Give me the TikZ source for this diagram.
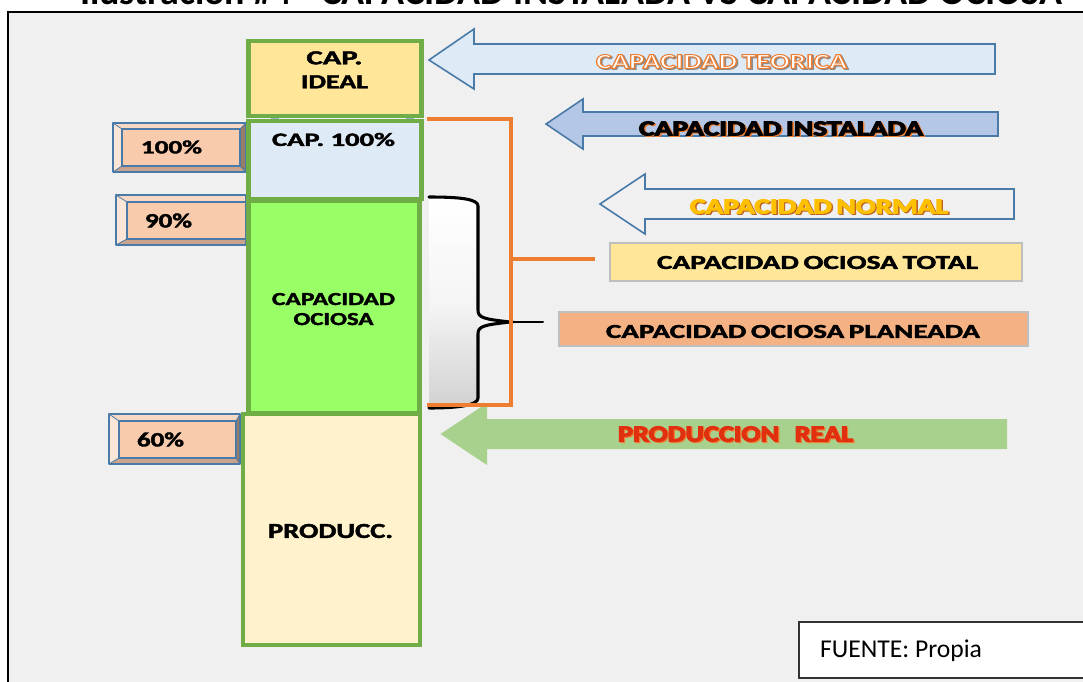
\documentclass[tikz,border=0pt]{standalone}
\usepackage{fontspec}
\usepackage{graphicx}
\setmainfont{Carlito}
\definecolor{bgc}{HTML}{F0F0F0}
\definecolor{grn}{HTML}{70AD47}
\definecolor{lblue}{HTML}{DEEAF6}
\definecolor{mblue}{HTML}{B4C7E7}
\definecolor{edge}{HTML}{4A7BA8}
\definecolor{yel}{HTML}{FFE699}
\definecolor{lime}{HTML}{99FF66}
\definecolor{cream}{HTML}{FFF2CC}
\definecolor{org}{HTML}{ED7D31}
\definecolor{sal}{HTML}{F4B183}
\definecolor{arrg}{HTML}{A9D18E}
\definecolor{bvf}{HTML}{F8CBAD}
\definecolor{bvt}{HTML}{FAD9C4}
\definecolor{bvl}{HTML}{FBE5D6}
\definecolor{bvb}{HTML}{C9A38B}
\definecolor{bvr}{HTML}{977C68}
\definecolor{gold}{HTML}{FFC000}
\definecolor{redt}{HTML}{E03010}
% fit a text in a box of given size in reference pixels
\newcommand{\fitbox}[3]{\resizebox{#1\dimexpr0.75pt\relax}{#2\dimexpr0.75pt\relax}{\bfseries\special{pdf:code 2 Tr 0.18 w}#3\special{pdf:code 0 Tr}}}
\newcommand{\tightsp}{\spaceskip=.7\fontdimen2\font}
% outlined text with a soft shadow: fill, stroke, shadow, text
\newcommand{\fx}[6]{\resizebox{#1\dimexpr0.75pt\relax}{#2\dimexpr0.75pt\relax}{\bfseries\tightsp
  \rlap{\kern0.45pt\raisebox{-0.45pt}{\color{#5}\special{pdf:code 2 Tr 0.5 w}#6}}%
  \color{#3}\strokeset{#4}#6\special{pdf:code 0 Tr}}}
\newcommand{\strokeset}[1]{\pgfextractcolor{#1}}
\makeatletter
\newcommand{\pgfextractcolor}[1]{\extractcolorspec{#1}{\my@spec}\expandafter\my@conv\my@spec\@nil\special{pdf:code 2 Tr \my@rgb\space RG 0.45 w}}
\def\my@conv#1#2\@nil{\convertcolorspec{#1}{#2}{rgb}\my@tmp\expandafter\my@split\my@tmp\@nil}
\def\my@split#1,#2,#3\@nil{\def\my@rgb{#1 #2 #3}}
\makeatother
\tikzset{
  pxsize/.style 2 args={minimum width=#1*0.75pt,minimum height=#2*0.75pt},
  txt/.style={inner sep=0pt,outer sep=0pt},
  tower/.style={draw=grn,line width=3.7pt,inner sep=0pt,outer sep=0pt},
  labelbox/.style={draw=black!25,line width=1.1pt,inner sep=0pt,outer sep=0pt},
  bevelface/.style={draw=edge,line width=1.1pt,fill=bvf,inner sep=0pt,outer sep=0pt},
  bevelline/.style={draw=edge,line width=0.9pt,line join=round},
  arrowshape/.style={draw=edge,line width=1.2pt,line join=miter},
  orangeline/.style={draw=org,line width=2.3pt},
  bracestroke/.style={draw=black,line width=2.3pt,line cap=round},
}
\newcommand{\bevel}[9]{% name, outer x1,y1,x2,y2, inner x1,y1,x2,y2
  \fill[bvt] (#2,#3)--(#4,#3)--(#8,#7)--(#6,#7)--cycle;
  \fill[bvl] (#2,#3)--(#6,#7)--(#6,#9)--(#2,#5)--cycle;
  \fill[bvb] (#2,#5)--(#6,#9)--(#8,#9)--(#4,#5)--cycle;
  \fill[bvr] (#4,#3)--(#8,#7)--(#8,#9)--(#4,#5)--cycle;
  \draw[bevelline] (#2,#3) rectangle (#4,#5);
  \draw[bevelline,line width=0.6pt] (#2,#3)--(#6,#7) (#2,#5)--(#6,#9) (#4,#3)--(#8,#7) (#4,#5)--(#8,#9);
}
\begin{document}
\begin{tikzpicture}[x=0.75pt,y=-0.75pt]
\useasboundingbox (0,0) rectangle (1083,682);
\fill[white] (0,0) rectangle (1083,682);
\fill[bgc] (8,12) rectangle (1083,682);
\draw[black,line width=1.9pt] (8,690) -- (8,12) -- (1090,12);
\node[txt,anchor=south west] (title) at (80,5) {\resizebox{982\dimexpr0.75pt\relax}{!}{\bfseries Ilustración \#4 - CAPACIDAD INSTALADA VS CAPACIDAD OCIOSA}};

% percentage tabs
\bevel{b100}{113}{123}{246}{172}{122}{129}{240}{166}
\node[bevelface,pxsize={118}{37}] (tab100) at (181,147.5) {};
\bevel{b90}{116}{195}{246}{245}{127}{202}{246}{239}
\node[bevelface,pxsize={119}{37}] (tab90) at (186.5,220.5) {};
\bevel{b60}{109}{414}{240}{464}{119}{421}{236}{458}
\node[bevelface,pxsize={117}{37}] (tab60) at (177.5,439.5) {};

% small tips between the top boxes
\fill[edge!60] (271,118) rectangle (279,121);
\fill[edge!60] (406,118) rectangle (414,121);

% tower
\node[tower,fill=yel,pxsize={173}{75}] (ideal) at (335,78.5) {};
\node[tower,fill=lblue,pxsize={173}{78}] (cap100) at (335,160) {};
\node[tower,fill=lime,pxsize={171}{213}] (ocio) at (334,307) {};
\node[tower,fill=cream,pxsize={177}{231}] (prod) at (331.5,529.5) {};

\node[txt] (t100) at (171.5,147) {\fitbox{61}{13}{100\%}};
\node[txt] (t90) at (168.5,220.5) {\fitbox{47}{14}{90\%}};
\node[txt] (t60) at (160.5,439.5) {\fitbox{47}{14}{60\%}};
\node[txt] (tideal) at (334.5,71.5) {\def\arraystretch{1.5}\begin{tabular}{@{}c@{}}\fitbox{56}{13}{CAP.}\\\fitbox{67}{13}{IDEAL}\end{tabular}};
\node[txt] (tcap) at (333.5,139.5) {\fitbox{123}{13}{CAP. 100\%}};
\node[txt] (tocio) at (333.5,311) {\def\arraystretch{1.25}\begin{tabular}{@{}c@{}}\fitbox{123}{12}{CAPACIDAD}\\\fitbox{80}{12}{OCIOSA}\end{tabular}};
\node[txt] (tprod) at (330.5,531) {\fitbox{125}{14}{PRODUCC.}};

% brace
\shade[top color=white,bottom color=black!18,middle color=black!4] (429,197) .. controls (460,197) and (478,199) .. (478,206) -- (478,398) .. controls (478,405) and (460,408) .. (429,408) -- cycle;
\coordinate (bracetop) at (429,197);
\coordinate (bracebot) at (429,408);
\coordinate (bracetip) at (543,322);
\draw[bracestroke] (bracetop) .. controls (460,197) and (478,199) .. (478,206) -- (478,310) .. controls (478,318) and (484,319) .. (510,322) .. controls (484,325) and (478,326) .. (478,334) -- (478,398) .. controls (478,405) and (460,408) .. (bracebot);
\draw[bracestroke,line width=1.5pt] (510,322) -- (bracetip);

% arrows
\draw[arrowshape,fill=lblue] (429,60) -- (474,29) -- (474,44) -- (995,44) -- (995,74) -- (474,74) -- (474,89) -- cycle;
\draw[arrowshape,fill=mblue] (546,124) -- (583,99) -- (583,112) -- (998,112) -- (998,136) -- (583,136) -- (583,149) -- cycle;
\draw[arrowshape] (600,204) -- (645,174) -- (645,189) -- (1014,189) -- (1014,219) -- (645,219) -- (645,234) -- cycle;
\fill[arrg] (440.5,434) -- (487,403) -- (487,419) -- (1007,419) -- (1007,449) -- (487,449) -- (487,465) -- cycle;

% orange bracket
\coordinate (oa) at (427,119);
\coordinate (ob) at (511,119);
\coordinate (oc) at (511,405);
\coordinate (od) at (427,405);
\coordinate (oe) at (511,259);
\coordinate (of) at (595,259);
\draw[orangeline] (oa) -- (ob) -- (oc) -- (od);
\draw[orangeline] (oe) -- (of);

% labels
\node[labelbox,fill=yel,pxsize={412}{38}] (total) at (816,262) {};
\node[labelbox,fill=sal,pxsize={469}{34}] (plan) at (793.5,329) {};
\node[txt] (ttotal) at (817.5,262.5) {\fitbox{321}{13}{\tightsp CAPACIDAD OCIOSA TOTAL}};
\node[txt] (tplan) at (793,331.5) {\fitbox{374}{13}{\tightsp CAPACIDAD OCIOSA PLANEADA}};
\node[txt] (tteo) at (721.5,62) {\fx{251}{14}{white}{org}{black!45}{CAPACIDAD TEORICA}};
\node[txt] (tins) at (781,129) {\fx{284}{14}{black}{black}{org}{CAPACIDAD INSTALADA}};
\node[txt] (tnor) at (819,207) {\fx{258}{14}{gold}{gold}{org!80!black}{CAPACIDAD NORMAL}};
\node[txt] (treal) at (735.5,434.5) {\fx{235}{15}{redt}{redt}{org}{PRODUCCION\kern0.55em REAL}};

% source
\draw[black!80,line width=0.9pt,fill=white] (799,622) rectangle (1095,678);
\node[txt,anchor=west] (src) at (820,651) {\resizebox{162\dimexpr0.75pt\relax}{!}{FUENTE: Propia}};
\end{tikzpicture}
\end{document}
